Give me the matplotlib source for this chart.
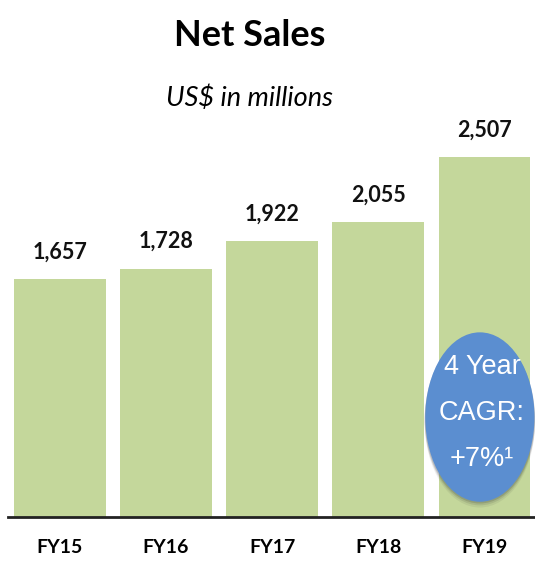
import matplotlib.pyplot as plt
from matplotlib.patches import Ellipse

years = ["FY15", "FY16", "FY17", "FY18", "FY19"]
sales = [1657, 1728, 1922, 2055, 2507]
cagr_text = "4 Year\nCAGR:\n+7%\u00b9"

bar_color = "#C4D79B"
bubble_color = "#5B8ED0"
narrow = ["Lato", "DejaVu Sans"]

fig = plt.figure(figsize=(5.35, 5.63), dpi=100)
ax = fig.add_axes([8 / 535, 46 / 563, 527 / 535, 380 / 563])

x = list(range(len(years)))
ax.bar(x, sales, width=0.86, color=bar_color, zorder=1)
ax.set_xlim(-0.49, 4.48)
ax.set_ylim(0, 2507 * 380 / 360)

for xi, v in zip(x, sales):
    ax.annotate(f"{v:,}", (xi, v), xytext=(0, 12), textcoords="offset points",
                ha="center", va="bottom", fontsize=15.5, fontweight="bold",
                family=narrow, color="#111111")

# CAGR bubble with a soft shadow
cx, cy, w, h = 3.96, 696, 1.03, 1180
for dy, a in [(-40, 0.08), (-25, 0.12), (-12, 0.18)]:
    ax.add_patch(Ellipse((cx, cy + dy), w * 1.01, h, color="#333333",
                         alpha=a, lw=0, zorder=2))
ax.add_patch(Ellipse((cx, cy), w, h, color=bubble_color, lw=0, zorder=3))
ax.text(cx + 0.02, cy + 25, cagr_text, ha="center", va="center", color="white",
        fontsize=19.5, family="Liberation Sans", linespacing=2.0, zorder=4)

for s in ["top", "right", "left"]:
    ax.spines[s].set_visible(False)
ax.spines["bottom"].set_linewidth(2)
ax.spines["bottom"].set_color("#222222")
ax.set_yticks([])
ax.set_xticks(x)
ax.set_xticklabels(years, fontsize=14, fontweight="bold", family=narrow)
ax.tick_params(axis="x", length=0, pad=16)

fig.text(250 / 535, 1 - 36 / 563, "Net Sales", ha="center", va="center",
         fontsize=26, fontweight="bold", family=narrow)
fig.text(250 / 535, 1 - 98 / 563, "US$ in millions", ha="center", va="center",
         fontsize=19.5, style="italic", family=narrow)

fig.savefig("out.png", dpi=100)
